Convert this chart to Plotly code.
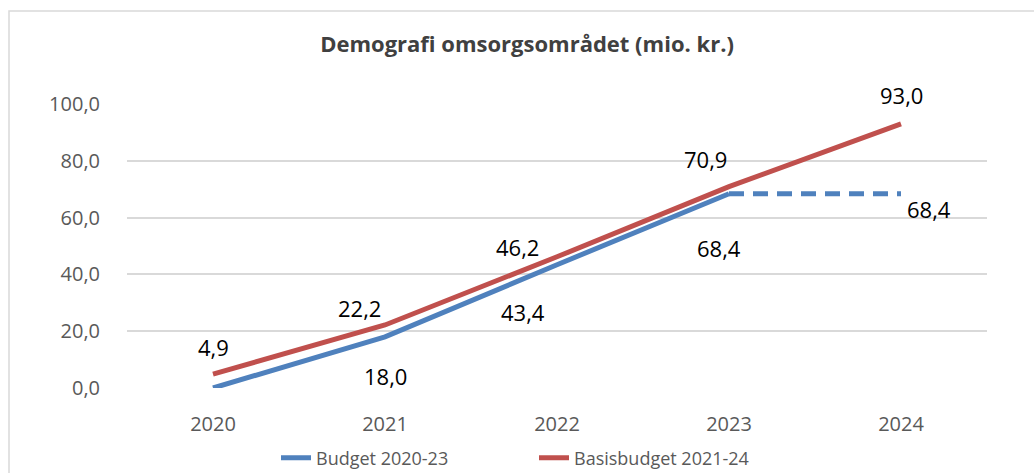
import plotly.graph_objects as go

years = ["2020", "2021", "2022", "2023", "2024"]
budget = [0.0, 18.0, 43.4, 68.4, 68.4]          # Budget 2020-23 (2024 = dashed projection)
basis = [4.9, 22.2, 46.2, 70.9, 93.0]           # Basisbudget 2021-24
tick_vals = [0, 20, 40, 60, 80, 100]
tick_labels = ["0,0", "20,0", "40,0", "60,0", "80,0", "100,0"]

BLUE = "#4F81BD"
RED = "#C0504D"
FONT = "Open Sans"

def fmt(v):
    return f"{v:.1f}".replace(".", ",")

fig = go.Figure()

fig.add_trace(go.Scatter(
    x=years[:4], y=budget[:4], mode="lines", name="Budget 2020-23",
    line=dict(color=BLUE, width=5), showlegend=True,
))
fig.add_trace(go.Scatter(
    x=years[3:], y=budget[3:], mode="lines", name="Budget 2020-23",
    line=dict(color=BLUE, width=5, dash="15px,9px"), showlegend=False,
))
fig.add_trace(go.Scatter(
    x=years, y=basis, mode="lines", name="Basisbudget 2021-24",
    line=dict(color=RED, width=5),
))

basis_shift = [(0, 27), (-26, 17), (-40, 10), (-24, 28), (0, 29)]
budget_shift = [None, (0, -39), (-34, -47), (-10, -54), (28, -15)]

annotations = []
for i, (v, s) in enumerate(zip(basis, basis_shift)):
    annotations.append(dict(x=i, y=v, xref="x", yref="y", text=fmt(v), showarrow=False,
                            xshift=s[0], yshift=s[1], font=dict(family=FONT, size=22, color="#000000")))
for i, (v, s) in enumerate(zip(budget, budget_shift)):
    if s is None:
        continue
    annotations.append(dict(x=i, y=v, xref="x", yref="y", text=fmt(v), showarrow=False,
                            xshift=s[0], yshift=s[1], font=dict(family=FONT, size=22, color="#000000")))

fig.update_layout(
    width=1034, height=473,
    margin=dict(l=127, r=47, t=104, b=85),
    paper_bgcolor="white", plot_bgcolor="white",
    font=dict(family=FONT, color="#595959"),
    title=dict(text="<b>Demografi omsorgsområdet (mio. kr.)</b>",
               x=527 / 1034, xref="container", xanchor="center",
               y=1 - 44 / 473, yref="container", yanchor="middle",
               font=dict(family=FONT, size=22, color="#404040")),
    xaxis=dict(type="category", categoryorder="array", categoryarray=years,
               range=[-0.5, 4.5], showgrid=False, showline=False, zeroline=False,
               tickfont=dict(family=FONT, size=20, color="#595959"),
               ticklabelstandoff=22, automargin=False),
    yaxis=dict(range=[0, 100], tickvals=tick_vals, ticktext=tick_labels,
               showgrid=True, gridcolor="#D9D9D9", gridwidth=1.5,
               zeroline=False, showline=False,
               tickfont=dict(family=FONT, size=20, color="#595959"),
               ticklabelstandoff=26, automargin=False),
    legend=dict(orientation="h", xref="container", x=276 / 1034, xanchor="left",
                yref="container", y=1 - 458 / 473, yanchor="middle",
                font=dict(family=FONT, size=18, color="#595959"),
                entrywidth=213, traceorder="normal", bgcolor="rgba(0,0,0,0)"),
    annotations=annotations,
    shapes=[dict(type="rect", xref="paper", yref="paper",
                 x0=(9 - 127) / 860, x1=(1040 - 127) / 860,
                 y0=(388 - 480) / 284, y1=(388 - 11) / 284,
                 line=dict(color="#D9D9D9", width=1.5), fillcolor="rgba(0,0,0,0)", layer="below")],
)

fig.write_html("out.html", config={"displayModeBar": False},
               post_script="document.body.style.margin='0';document.body.style.overflow='hidden';")
